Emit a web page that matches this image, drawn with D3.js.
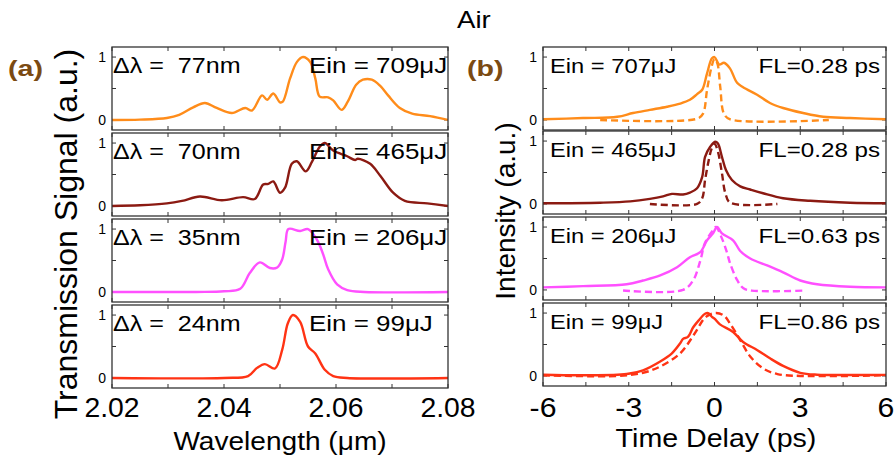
<!DOCTYPE html>
<html><head><meta charset="utf-8">
<script src="https://cdn.jsdelivr.net/npm/d3@7/dist/d3.min.js"></script>
<style>html,body{margin:0;padding:0;background:#fff}svg{display:block;font-family:"Liberation Sans",Arial,sans-serif}</style>
</head><body><svg id="c" width="896" height="463"></svg>
<script>
// ---------- data ----------
const wlTicks = [2.02, 2.04, 2.06, 2.08];
const wlMinor = [2.03, 2.05, 2.07];
const tdTicks = [-6, -3, 0, 3, 6];
const tdMinor = [-4.5, -1.5, 1.5, 4.5];
const yTicks = [0, 0.5, 1];
const colors = ["#FF8C1A", "#8B1A12", "#FF50FF", "#FF3314"];
const bandLabels = ["Δλ =\u00A0 77nm", "Δλ =\u00A0 70nm", "Δλ =\u00A0 35nm", "Δλ =\u00A0 24nm"];
const einA = ["Ein = 709μJ", "Ein = 465μJ", "Ein = 206μJ", "Ein = 99μJ"];
const einB = ["Ein = 707μJ", "Ein = 465μJ", "Ein = 206μJ", "Ein = 99μJ"];
const flLabels = ["FL=0.28 ps", "FL=0.28 ps", "FL=0.63 ps", "FL=0.86 ps"];

const spec709 = [[2.02,0],[2.025,0.005],[2.0298,0.03],[2.032,0.08],[2.0345,0.2],[2.0366,0.27],[2.0387,0.19],[2.0414,0.11],[2.0438,0.19],[2.045,0.15],[2.0468,0.39],[2.0477,0.32],[2.0488,0.42],[2.050,0.28],[2.0505,0.29],[2.0518,0.66],[2.053,0.92],[2.0541,1.0],[2.0554,0.92],[2.0563,0.66],[2.0571,0.37],[2.0586,0.36],[2.0595,0.31],[2.061,0.16],[2.0621,0.29],[2.0636,0.56],[2.0648,0.64],[2.0664,0.64],[2.0679,0.54],[2.0693,0.39],[2.0714,0.19],[2.0736,0.1],[2.0768,0.06],[2.08,0.0]];
const spec465 = [[2.02,0],[2.025,0.01],[2.0298,0.04],[2.0325,0.08],[2.0357,0.15],[2.0396,0.09],[2.0434,0.14],[2.0455,0.11],[2.047,0.34],[2.0479,0.35],[2.0488,0.39],[2.05,0.21],[2.0509,0.29],[2.0521,0.67],[2.053,0.71],[2.0546,0.55],[2.0557,0.70],[2.0571,0.94],[2.058,1.0],[2.0595,0.88],[2.062,0.79],[2.0634,0.73],[2.0639,0.75],[2.0661,0.67],[2.0679,0.48],[2.0702,0.21],[2.0723,0.08],[2.0763,0.04],[2.08,0]];
const spec206 = [[2.02,0],[2.035,0],[2.04,0.01],[2.0429,0.05],[2.0446,0.30],[2.0464,0.47],[2.0482,0.38],[2.0495,0.39],[2.0504,0.52],[2.051,0.8],[2.0515,1.0],[2.0536,0.97],[2.055,1.0],[2.0566,0.83],[2.0577,0.6],[2.0586,0.36],[2.0602,0.12],[2.062,0.03],[2.065,0],[2.08,0]];
const spec99 = [[2.02,0],[2.04,0],[2.0443,0.03],[2.0459,0.16],[2.0473,0.22],[2.0491,0.15],[2.0504,0.45],[2.0514,0.87],[2.0523,1.0],[2.0536,0.89],[2.055,0.5],[2.0563,0.39],[2.058,0.13],[2.0595,0.03],[2.062,0],[2.08,0]];

const pulse707 = [[-6,0.01],[-4.6,0.03],[-3.4,0.05],[-2.85,0.11],[-2.26,0.16],[-1.66,0.21],[-1.2,0.26],[-0.86,0.32],[-0.61,0.41],[-0.43,0.48],[-0.26,0.74],[-0.09,0.98],[0,1.0],[0.17,0.88],[0.33,0.91],[0.54,0.82],[0.79,0.59],[1.0,0.52],[1.49,0.40],[1.94,0.27],[2.4,0.19],[3.1,0.11],[3.8,0.05],[4.74,0.03],[6,0.01]];
const fit707 = [[-4,0],[-0.6,0.02],[-0.4,0.1],[-0.26,0.48],[-0.1,0.85],[0,0.97],[0.1,0.9],[0.2,0.53],[0.33,0.1],[0.55,0.01],[4,0]];
const pulse465 = [[-6,0.01],[-4.0,0.02],[-2.95,0.04],[-2.26,0.08],[-1.8,0.12],[-1.49,0.16],[-1.1,0.15],[-0.86,0.18],[-0.61,0.25],[-0.43,0.43],[-0.33,0.75],[-0.15,0.91],[0.02,0.99],[0.12,0.96],[0.26,0.75],[0.4,0.54],[0.61,0.38],[0.9,0.28],[1.25,0.23],[1.7,0.17],[2.4,0.09],[3.35,0.05],[4.74,0.02],[6,0.01]];
const fit465 = [[-2.26,0],[-0.61,0],[-0.43,0.09],[-0.33,0.38],[-0.2,0.70],[-0.1,0.88],[0,0.96],[0.12,0.83],[0.26,0.49],[0.38,0.17],[0.55,0.02],[2.2,0]];
const pulse206 = [[-6,0.04],[-4.6,0.06],[-3.07,0.09],[-2.5,0.15],[-1.9,0.23],[-1.31,0.36],[-0.86,0.52],[-0.5,0.6],[-0.26,0.79],[-0.05,0.9],[0.09,1.0],[0.26,0.9],[0.65,0.79],[0.9,0.62],[1.25,0.5],[1.84,0.39],[2.4,0.28],[3.0,0.15],[3.59,0.09],[4.74,0.05],[6,0.04]];
const fit206 = [[-3.2,-0.01],[-1.1,0.0],[-0.75,0.15],[-0.5,0.46],[-0.33,0.75],[-0.05,0.95],[0.05,1.0],[0.26,0.82],[0.44,0.59],[0.54,0.43],[0.79,0.16],[1.0,0.03],[1.3,-0.01],[3.17,-0.01]];
const pulse99 = [[-6,0.02],[-4.6,0.01],[-3.07,0.03],[-2.5,0.09],[-1.9,0.23],[-1.49,0.36],[-1.2,0.52],[-1.1,0.59],[-0.93,0.62],[-0.75,0.77],[-0.56,0.88],[-0.33,0.99],[-0.22,1.0],[-0.09,0.94],[0,0.91],[0.19,0.82],[0.65,0.7],[1.0,0.54],[1.5,0.41],[1.94,0.28],[2.4,0.16],[3.0,0.05],[3.59,0.02],[6,0.02]];
const fit99 = [[-6,0.01],[-3.4,0],[-2.5,0.05],[-1.9,0.15],[-1.2,0.36],[-0.7,0.67],[-0.3,0.94],[0.05,1.0],[0.33,0.96],[0.55,0.83],[0.9,0.57],[1.25,0.31],[1.7,0.12],[2.2,0.03],[3.0,0],[6,0.01]];

const spectra = [spec709, spec465, spec206, spec99];
const pulses = [pulse707, pulse465, pulse206, pulse99];
const fits = [fit707, fit465, fit206, fit99];

// ---------- layout ----------
const svg = d3.select("#c");
const panelH = 83;
const leftTops = [47, 133, 219, 305];
const rightTops = [47, 131, 217, 303];
const xA = d3.scaleLinear().domain([2.02, 2.08]).range([112, 448]);
const xB = d3.scaleLinear().domain([-6, 6]).range([543, 886]);
const frameColor = "#333";

function txt(g, x, y, s, size, anchor, sx, opts = {}) {
  const t = g.append("text")
    .attr("transform", `translate(${x},${y})${opts.rot ? " rotate(" + opts.rot + ")" : ""} scale(${sx},1)`)
    .attr("text-anchor", anchor)
    .attr("font-size", size)
    .attr("fill", opts.fill || "#000")
    .text(s);
  if (opts.bold) t.attr("font-weight", "bold");
  return t;
}

function panel(x, top, i, side) {
  const y = d3.scaleLinear().domain([-0.16, 1.16]).range([top + panelH, top]);
  const g = svg.append("g");
  const id = `clip${side}${i}`;
  g.append("clipPath").attr("id", id).append("rect")
    .attr("x", x.range()[0]).attr("y", top).attr("width", x.range()[1] - x.range()[0]).attr("height", panelH);
  const major = side === "A" ? wlTicks : tdTicks;
  const minor = side === "A" ? wlMinor : tdMinor;
  const all = major.concat(minor);
  const tl = 4;
  const tg = g.append("g").attr("stroke", frameColor).attr("stroke-width", 1);
  all.forEach(v => {
    const px = x(v);
    tg.append("line").attr("x1", px).attr("x2", px).attr("y1", top + panelH).attr("y2", top + panelH - tl);
    tg.append("line").attr("x1", px).attr("x2", px).attr("y1", top).attr("y2", top + tl);
  });
  yTicks.forEach(v => {
    tg.append("line").attr("x1", x.range()[0]).attr("x2", x.range()[0] + tl).attr("y1", y(v)).attr("y2", y(v));
    tg.append("line").attr("x1", x.range()[1]).attr("x2", x.range()[1] - tl).attr("y1", y(v)).attr("y2", y(v));
  });
  [0, 1].forEach(v => {
    txt(g, x.range()[0] - 6, y(v) + 5, String(v), 14, "end", 1);
  });
  const line = d3.line().x(d => x(d[0])).y(d => y(d[1])).curve(d3.curveCatmullRom.alpha(0.5));
  const cg = g.append("g").attr("clip-path", `url(#${id})`);
  if (side === "B") {
    cg.append("path").datum(fits[i]).attr("d", line).attr("fill", "none")
      .attr("stroke", colors[i]).attr("stroke-width", 2.4).attr("stroke-dasharray", "7,4");
    cg.append("path").datum(pulses[i]).attr("d", line).attr("fill", "none")
      .attr("stroke", colors[i]).attr("stroke-width", 2.4).attr("stroke-linejoin", "round");
  } else {
    cg.append("path").datum(spectra[i]).attr("d", line).attr("fill", "none")
      .attr("stroke", colors[i]).attr("stroke-width", 2.4).attr("stroke-linejoin", "round");
  }
  if (side === "A") {
    txt(cg, 113, top + 26, bandLabels[i], 22, "start", 1.14);
    txt(cg, 309, top + 26, einA[i], 22, "start", 1.18);
  } else {
    txt(g, 550, top + 26, einB[i], 21, "start", 1.13);
    txt(g, 880, top + 26, flLabels[i], 21, "end", 1.15);
  }
  g.append("rect").attr("x", x.range()[0]).attr("y", top)
    .attr("width", x.range()[1] - x.range()[0]).attr("height", panelH)
    .attr("fill", "none").attr("stroke", frameColor).attr("stroke-width", 1.3);
}

for (let i = 0; i < 4; i++) {
  panel(xA, leftTops[i], i, "A");
  panel(xB, rightTops[i], i, "B");
}

// bottom tick labels
const lab = svg.append("g");
wlTicks.forEach(v => txt(lab, xA(v), 417, d3.format(".2f")(v), 27, "middle", 1.05));
tdTicks.forEach(v => txt(lab, xB(v), 417, String(v), 27, "middle", 1.12));

// axis titles
txt(lab, 280, 450, "Wavelength (μm)", 26, "middle", 1.08);
txt(lab, 716, 447, "Time Delay (ps)", 26, "middle", 1.1);
txt(lab, 77, 234, "Transmission Signal (a.u.)", 32, "middle", 1, { rot: -90 });
txt(lab, 515, 211, "Intensity (a.u.)", 28, "middle", 1, { rot: -90 });

// title and panel letters
txt(lab, 457, 28, "Air", 23, "start", 1.2);
txt(lab, 8, 76, "(a)", 22, "start", 1.3, { bold: true, fill: "#7B4A12" });
txt(lab, 467, 76, "(b)", 22, "start", 1.3, { bold: true, fill: "#7B4A12" });
</script></body></html>
